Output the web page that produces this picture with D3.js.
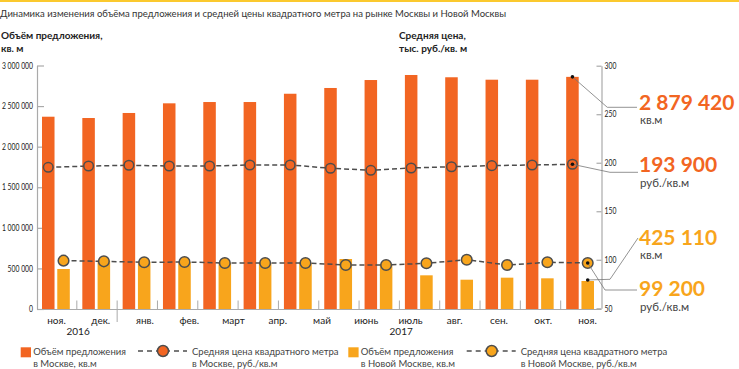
<!DOCTYPE html>
<html><head><meta charset="utf-8">
<script src="https://cdn.jsdelivr.net/npm/d3@7"></script>
<style>
body{margin:0;background:#fff;}
svg{display:block;font-family:Lato,"Open Sans",sans-serif;}
</style></head><body>
<svg id="c" width="739" height="369"></svg>
<script>
// ---- data ----
const periods = ["2016-11","2016-12","2017-01","2017-02","2017-03","2017-04","2017-05","2017-06a","2017-06b","2017-07","2017-08","2017-09","2017-10","2017-11"];
const monthLabels = ["ноя.","дек.","янв.","фев.","март","апр.","май","июнь","июль","авг.","сен.","окт.","ноя."];
const yearLabels = ["2016","2017"];
const moscowVolume = [2369000,2353000,2415000,2534000,2550000,2550000,2652000,2723000,2821000,2883000,2855000,2825000,2825000,2860000];
const newMoscowVolume = [493000,597000,583000,580000,570000,567000,567000,616000,555000,415000,361000,386000,378000,345000];
const moscowPrice = [195.3,196.6,197.4,196.6,196.6,197.7,197.7,194.3,192.2,194.6,195.9,197.0,197.7,198.4];
const newMoscowPrice = [99.1,98.4,97.4,97.7,96.7,96.7,96.7,94.6,94.6,96.4,100.1,94.6,97.4,96.7];
const volumeTicks = [0,500000,1000000,1500000,2000000,2500000,3000000];
const priceTicks = [50,100,150,200,250,300];
const calloutValues = ["2 879 420","193 900","425 110","99 200"];
const calloutUnits = ["кв.м","руб./кв.м","кв.м","руб./кв.м"];
const legendLines1 = ["Объём предложения","Средняя цена квадратного метра","Объём предложения","Средняя цена квадратного метра"];
const legendLines2 = ["в Москве, кв.м","в Москве, руб./кв.м","в Новой Москве, кв.м","в Новой Москве, руб./кв.м"];
const title = "Динамика изменения объёма предложения и средней цены квадратного метра на рынке Москвы и Новой Москвы";

// ---- styles ----
const ORANGE = "#f26522", YELLOW = "#f8a51c", DARK = "#4d4d4d", TEXT = "#333";
const svg = d3.select("#c");

svg.append("rect").attr("x",0).attr("y",0).attr("width",739).attr("height",2).attr("fill","#fbc92e");
svg.append("text").attr("x",0).attr("y",17).attr("font-size",9.5).attr("fill",TEXT).text(title);

// axis titles
const at = svg.append("g").attr("font-size",10).attr("font-weight","bold").attr("fill","#222");
at.append("text").attr("x",1).attr("y",38.5).text("Объём предложения,");
at.append("text").attr("x",1).attr("y",51.5).text("кв. м");
at.append("text").attr("x",399).attr("y",38.5).text("Средняя цена,");
at.append("text").attr("x",399).attr("y",51.5).text("тыс. руб./кв. м");

// scales
const x = d3.scaleBand().domain(periods).range([36.5,601]);
const xs = d3.scaleBand().domain(["moscow","newMoscow"]).range([5.5,33.3]).paddingInner(0.18);
const yV = d3.scaleLinear().domain([0,3000000]).range([309,65.5]);
const yP = d3.scaleLinear().domain([50,300]).range([308.3,65.7]);
const xL = d3.scaleLinear().domain([0,12]).range([56,587]);

const fmt = v => d3.format(",")(v).replace(/,/g," ");
function condense(sel, k){
  sel.each(function(){
    const w = this.getComputedTextLength();
    d3.select(this).attr("textLength", w*k).attr("lengthAdjust","spacingAndGlyphs");
  });
}

// left axis
const gl = svg.append("g").attr("transform","translate(37,0)")
  .call(d3.axisLeft(yV).tickValues(volumeTicks).tickFormat(fmt).tickSizeInner(-7).tickSizeOuter(0).tickPadding(4));
gl.selectAll("text").attr("font-family","Lato,sans-serif").attr("font-size",8.5).attr("fill","#222");
condense(gl.selectAll("text"), 0.8);
gl.selectAll("line,path").attr("stroke","#aaa").attr("stroke-width",1.2);

// right axis
const gr = svg.append("g").attr("transform","translate(601.5,0)")
  .call(d3.axisRight(yP).tickValues(priceTicks).tickSizeInner(-5).tickSizeOuter(0).tickPadding(3));
gr.selectAll("text").attr("font-family","Lato,sans-serif").attr("font-size",8.5).attr("fill","#222");
condense(gr.selectAll("text"), 0.8);
gr.selectAll("line,path").attr("stroke","#aaa").attr("stroke-width",1.2);

// bars
const bars = svg.append("g");
bars.selectAll(".bm").data(periods).join("rect")
  .attr("x",(p)=>x(p)+xs("moscow")).attr("width",xs.bandwidth())
  .attr("y",(p,i)=>yV(moscowVolume[i])).attr("height",(p,i)=>yV(0)-yV(moscowVolume[i])+1)
  .attr("fill",ORANGE);
bars.selectAll(".bn").data(periods).join("rect")
  .attr("x",(p)=>x(p)+xs("newMoscow")).attr("width",xs.bandwidth())
  .attr("y",(p,i)=>yV(newMoscowVolume[i])).attr("height",(p,i)=>yV(0)-yV(newMoscowVolume[i])+1)
  .attr("fill",YELLOW);

// x axis baseline and ticks
const base = yV(0)+0.5;
svg.append("line").attr("x1",37).attr("x2",601.5).attr("y1",base).attr("y2",base).attr("stroke","#aaa").attr("stroke-width",1.2);
svg.append("g").selectAll("line").data(periods.slice(1)).join("line")
  .attr("x1",p=>x(p)).attr("x2",p=>x(p)).attr("y1",base-9).attr("y2",(p,i)=>i===1?322:base)
  .attr("stroke","#aaa").attr("stroke-width",1);

const gx = svg.append("g").attr("transform",`translate(0,${base})`)
  .call(d3.axisBottom(xL).tickValues(d3.range(monthLabels.length)).tickFormat(i=>monthLabels[i]).tickSize(0).tickPadding(7));
gx.select(".domain").remove();
gx.selectAll("text").attr("font-size",10).attr("fill","#222").attr("font-family","Lato,sans-serif");
svg.append("g").selectAll("text").data(yearLabels).join("text")
  .attr("x",(d,i)=>xL(i===0?0.5:7.8)).attr("y",335).attr("text-anchor","middle")
  .attr("font-size",10).attr("fill","#222").text(d=>d);

// lines
const cxM = i => x(periods[i])+xs("moscow")+xs.bandwidth()/2;
const cxN = i => x(periods[i])+xs("newMoscow")+xs.bandwidth()/2;
function series(vals, cx, fill, r){
  const g = svg.append("g");
  g.append("path").datum(vals)
    .attr("d",d3.line().x((d,i)=>cx(i)).y(d=>yP(d)))
    .attr("fill","none").attr("stroke",DARK).attr("stroke-width",1.5).attr("stroke-dasharray","5,3");
  g.selectAll("circle").data(vals).join("circle")
    .attr("cx",(d,i)=>cx(i)).attr("cy",d=>yP(d)).attr("r",r)
    .attr("fill",fill).attr("stroke",DARK).attr("stroke-width",1.5);
}
series(moscowPrice, cxM, ORANGE, 4.8);
series(newMoscowPrice, cxN, YELLOW, 5.3);

// callouts
const last = periods.length-1;
const pts = [
  {a:[cxM(last), yV(moscowVolume[last])], path:[[607.3,107.3],[637,107.3]]},
  {a:[cxM(last), yP(moscowPrice[last])], path:[[610,172.3],[638,172.3]]},
  {a:[cxN(last), yV(newMoscowVolume[last])-1], path:[[610,279.3],[638,238]]},
  {a:[cxN(last), yP(newMoscowPrice[last])], path:[[605,290],[637,290]]}
];
const cg = svg.append("g");
pts.forEach(p=>{
  cg.append("path").attr("d",d3.line()([p.a,...p.path])).attr("fill","none").attr("stroke","#777").attr("stroke-width",0.8);
  cg.append("circle").attr("cx",p.a[0]).attr("cy",p.a[1]).attr("r",1.8).attr("fill","#111");
});
const valY = [110,171.5,245,296], unitY = [124,187,259,310.5];
calloutValues.forEach((v,i)=>{
  cg.append("text").attr("x",639).attr("y",valY[i]).attr("font-size",21).attr("font-weight","bold")
    .attr("fill",i<2?ORANGE:YELLOW).text(v);
  cg.append("text").attr("x",640).attr("y",unitY[i]).attr("font-size",11.5).attr("fill","#444").text(calloutUnits[i]);
});

// legend
const lg = svg.append("g").attr("font-size",9.5).attr("fill","#444");
const legX = [20.7,138,348.3,466.7];
const legColor = [ORANGE,ORANGE,YELLOW,YELLOW];
legendLines1.forEach((t,i)=>{
  const lx = legX[i];
  let tx;
  if(i%2===0){
    lg.append("rect").attr("x",lx).attr("y",347.3).attr("width",10.3).attr("height",10).attr("fill",legColor[i]);
    tx = lx+12.5;
  } else {
    lg.append("line").attr("x1",lx).attr("x2",lx+49).attr("y1",351).attr("y2",351)
      .attr("stroke",DARK).attr("stroke-width",1.5).attr("stroke-dasharray","5,4");
    lg.append("circle").attr("cx",lx+25).attr("cy",351).attr("r",5.5).attr("fill",legColor[i]).attr("stroke",DARK).attr("stroke-width",1.5);
    tx = lx+54;
  }
  lg.append("text").attr("x",tx).attr("y",355).text(t);
  lg.append("text").attr("x",tx).attr("y",366.5).text(legendLines2[i]);
});
</script>
</body></html>
